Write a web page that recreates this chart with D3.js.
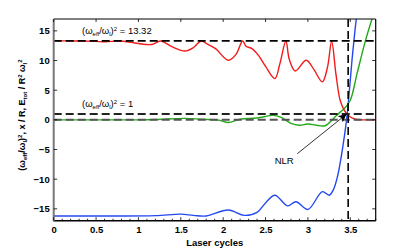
<!DOCTYPE html>
<html><head><meta charset="utf-8">
<script src="https://cdn.jsdelivr.net/npm/d3@7"></script>
<style>body{margin:0;background:#fff}svg{display:block}text{font-family:"Liberation Sans",Arial,sans-serif}</style>
</head><body><svg id="c" width="415" height="250"></svg>
<script>
const redX = [0,0.25,0.49,0.61,0.78,0.96,1.16,1.26,1.40,1.55,1.65,1.74,1.80,1.91,2.06,2.15,2.23,2.27,2.34,2.41,2.50,2.61,2.67,2.74,2.78,2.85,2.98,3.07,3.17,3.23,3.28,3.33,3.38,3.43,3.48,3.56,3.65,3.8];
const redY = [13.32,13.3,13.22,13.15,13.3,12.95,12.7,13.3,12.3,11.6,12.2,13.3,12.9,12.0,10.05,11.0,13.3,12.4,12.0,11.0,9.0,6.95,9.5,13.3,10.2,8.24,10.05,8.5,6.4,8.8,13.2,7.8,3.3,1.6,0.7,0.1,0.0,0.0];
const greenX = [0,0.5,1.0,1.2,1.55,1.75,1.95,2.06,2.2,2.4,2.6,2.7,2.8,2.9,3.0,3.1,3.2,3.3,3.38,3.43,3.5,3.58,3.68,3.8];
const greenY = [0,0,0,0.05,0.25,0.1,-0.05,-0.45,0.1,0.3,0.75,0.3,-0.6,-0.9,-0.7,-0.9,-1.0,0.2,1.3,1.9,3.3,7.8,13.4,19];
const blueX = [0,0.6,1.2,1.5,1.65,1.8,2.06,2.25,2.4,2.5,2.61,2.76,2.86,3.0,3.17,3.25,3.3,3.35,3.39,3.43,3.46,3.49,3.52,3.555,3.58];
const blueY = [-16.2,-16.2,-16.15,-15.9,-16.1,-16.2,-15.2,-16.1,-15.6,-14.0,-12.7,-14.5,-13.8,-15.1,-12.1,-12.7,-11.8,-9.5,-6.5,-2.8,0.5,5,10,15,18];
const refLevels = [13.32, 1, 0];
const refLabels = ["13.32", "1"];
const vLine = 3.475;
const xTicks = [0,0.5,1,1.5,2,2.5,3,3.5];
const yTicks = [-15,-10,-5,0,5,10,15];

const svg = d3.select("#c");
const m = {l:53.7, r:375.7, t:19, b:220.7};
const x = d3.scaleLinear().domain([0,3.8]).range([m.l,m.r]);
const y = d3.scaleLinear().domain([-17,17]).range([m.b,m.t]);

svg.append("clipPath").attr("id","clip").append("rect")
  .attr("x",m.l).attr("y",m.t).attr("width",m.r-m.l).attr("height",m.b-m.t);
const g = svg.append("g").attr("clip-path","url(#clip)");

const line = d3.line().x(d=>x(d[0])).y(d=>y(d[1])).curve(d3.curveCatmullRom.alpha(0.5));
function series(xs, ys, col){
  g.append("path").attr("d", line(xs.map((v,i)=>[v,ys[i]])))
   .attr("fill","none").attr("stroke",col).attr("stroke-width",1.4);
}
series(blueX, blueY, "#2449f0");
series(greenX, greenY, "#22a81a");
series(redX, redY, "#f21a1a");

// reference dashed lines
const refCols = ["#000","#222","#555"];
refLevels.forEach((v,i)=>{
  g.append("line").attr("x1",m.l).attr("x2",m.r).attr("y1",y(v)).attr("y2",y(v))
   .attr("stroke",refCols[i]).attr("stroke-width",i==0?1.6:2).attr("stroke-dasharray","8,4");
});
g.append("line").attr("x1",x(vLine)).attr("x2",x(vLine)).attr("y1",m.t).attr("y2",m.b)
  .attr("stroke","#000").attr("stroke-width",1.6).attr("stroke-dasharray","8,4");

// frame
svg.append("line").attr("x1",m.l).attr("x2",m.r).attr("y1",m.t).attr("y2",m.t).attr("stroke","#000").attr("stroke-width",1.2);
svg.append("line").attr("x1",m.r).attr("x2",m.r).attr("y1",m.t).attr("y2",m.b).attr("stroke","#000").attr("stroke-width",1.2);
svg.append("line").attr("x1",m.l).attr("x2",m.r).attr("y1",m.b).attr("y2",m.b).attr("stroke","#000").attr("stroke-width",1.4);
svg.append("line").attr("x1",m.l).attr("x2",m.l).attr("y1",m.t).attr("y2",m.b+0.7).attr("stroke","#777").attr("stroke-width",2);

// axes
const xAxis = d3.axisBottom(x).tickValues(xTicks).tickSize(0).tickPadding(0)
  .tickFormat(d=>d3.format("")(d));
const ax = svg.append("g").attr("transform",`translate(0,${m.b})`).call(xAxis);
ax.select(".domain").remove();
ax.selectAll("text").attr("dy",null).attr("y",12.5).attr("font-size",9.5).attr("font-weight","bold").attr("fill","#000");
// minor ticks bottom
d3.range(0,3.81,0.1).forEach(v=>{
  const major = Math.abs(v*2-Math.round(v*2))<1e-6;
  svg.append("line").attr("x1",x(v)).attr("x2",x(v)).attr("y1",m.b).attr("y2",m.b-(major?3.5:2)).attr("stroke","#000").attr("stroke-width",0.8);
});
xTicks.forEach(v=>{
  svg.append("line").attr("x1",x(v)).attr("x2",x(v)).attr("y1",m.t).attr("y2",m.t+3).attr("stroke","#000").attr("stroke-width",0.8);
});
const yAxis = d3.axisLeft(y).tickValues(yTicks).tickSize(0).tickPadding(4)
  .tickFormat(d=>d<0?"\u2212"+Math.abs(d):String(d));
const ay = svg.append("g").attr("transform",`translate(${m.l},0)`).call(yAxis);
ay.select(".domain").remove();
ay.selectAll("text").attr("font-size",9.5).attr("font-weight","bold").attr("fill","#000");
yTicks.forEach(v=>{
  svg.append("line").attr("x1",m.l).attr("x2",m.l+3.5).attr("y1",y(v)).attr("y2",y(v)).attr("stroke","#000").attr("stroke-width",0.8);
  svg.append("line").attr("x1",m.r).attr("x2",m.r-3.5).attr("y1",y(v)).attr("y2",y(v)).attr("stroke","#000").attr("stroke-width",0.8);
});

// x title
svg.append("text").attr("x",(m.l+m.r)/2).attr("y",246).attr("text-anchor","middle")
  .attr("font-size",9.5).attr("font-weight","bold").text("Laser cycles");

// y title
const yt = svg.append("text").attr("transform","translate(24.5,115) rotate(-90)")
  .attr("text-anchor","middle").attr("font-size",9).attr("font-weight","bold");
function part(el, t, kind){
  const s = el.append("tspan").text(t);
  if(kind==="sub") s.attr("font-size",6).attr("baseline-shift","-25%");
  if(kind==="sup") s.attr("font-size",6).attr("baseline-shift","45%");
  return s;
}
[["(ω"],["eff","sub"],["/ω"],["l","sub"],[")"],["2","sup"],[", x / R,  E"],["tot","sub"],[" / R"],["2","sup"],[" ω"],["l","sub"],["2","sup"]]
  .forEach(p=>part(yt,p[0],p[1]));

// reference labels
function refLabel(val, txt){
  const t = svg.append("text").attr("x",82).attr("y",y(val)-6.5).attr("font-size",9.5);
  [["(ω"],["eff","sub"],["/ω"],["l","sub"],[")"],["2","sup"],[" = "+txt]].forEach(p=>part(t,p[0],p[1]));
}
refLabel(refLevels[0], refLabels[0]);
refLabel(refLevels[1], refLabels[1]);

// NLR annotation
svg.append("defs").append("marker").attr("id","ah").attr("viewBox","0 0 10 10").attr("refX",10).attr("refY",5)
  .attr("markerWidth",8).attr("markerHeight",8).attr("markerUnits","userSpaceOnUse").attr("orient","auto")
  .append("path").attr("d","M0,0 L10,5 L0,10 L2.5,5 z").attr("fill","#000");
svg.append("line").attr("x1",x(2.875)).attr("y1",y(-5.7)).attr("x2",x(3.455)).attr("y2",y(0.95))
  .attr("stroke","#000").attr("stroke-width",0.8).attr("marker-end","url(#ah)");
svg.append("text").attr("x",x(2.72)).attr("y",y(-7.45)).attr("text-anchor","middle").attr("font-size",9.5).text("NLR");
</script></body></html>
